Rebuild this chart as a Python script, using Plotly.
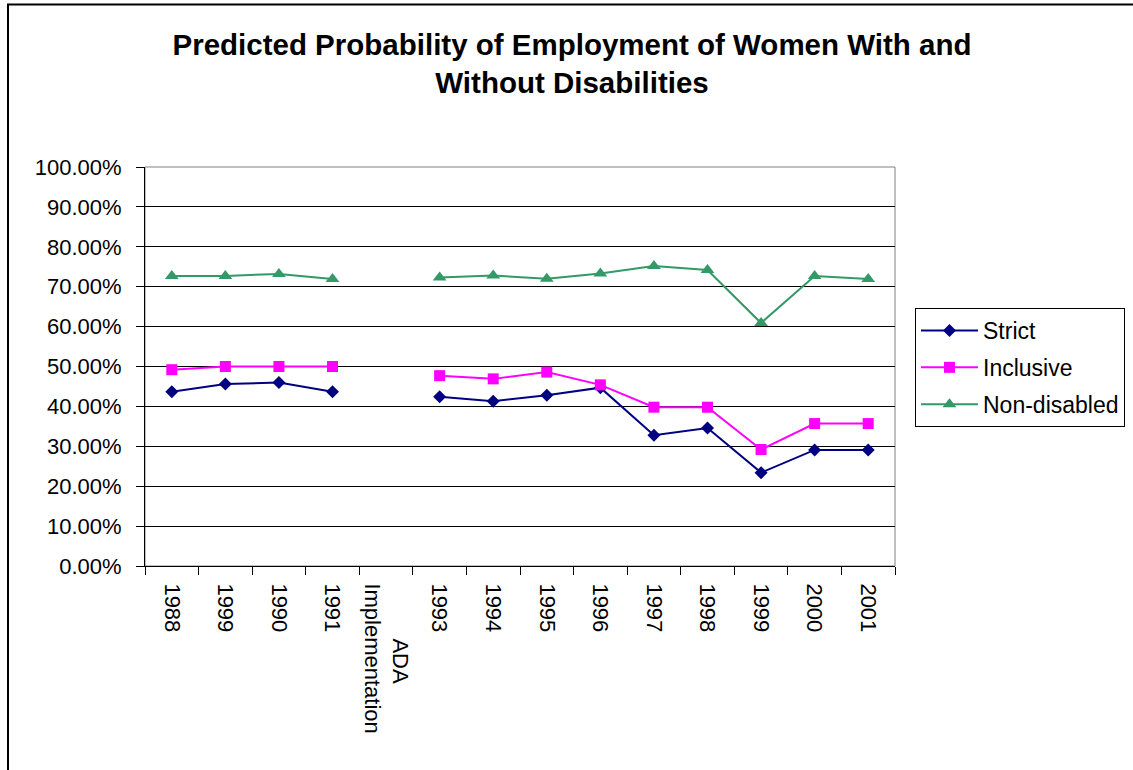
import plotly.graph_objects as go

# Categories along the x axis (the gap marks the ADA implementation year)
categories = ["1988", "1999", "1990", "1991",
              "\u00a0" * 9 + "ADA<br>Implementation",
              "1993", "1994", "1995", "1996", "1997", "1998", "1999 ", "2000", "2001"]

# Predicted probability of employment, in percent
strict = [43.7, 45.6, 46.0, 43.7, None, 42.4, 41.3, 42.8, 44.7, 32.8, 34.6, 23.4, 29.1, 29.1]
inclusive = [49.2, 50.0, 50.0, 50.0, None, 47.7, 46.9, 48.6, 45.4, 39.8, 39.8, 29.2, 35.7, 35.7]
non_disabled = [72.7, 72.7, 73.2, 71.9, None, 72.3, 72.8, 72.0, 73.3, 75.2, 74.2, 60.9, 72.7, 71.9]

y_ticks = [0, 10, 20, 30, 40, 50, 60, 70, 80, 90, 100]

FONT = "Liberation Sans, Arial, sans-serif"

fig = go.Figure()

series = [
    ("Strict", strict, "#000080", "diamond", 10),
    ("Inclusive", inclusive, "#FF00FF", "square", 11),
    ("Non-disabled", non_disabled, "#339966", "triangle-up", 12),
]
for name, values, color, symbol, size in series:
    fig.add_trace(go.Scatter(
        x=categories, y=values, name=name, mode="lines+markers",
        line=dict(color=color, width=2),
        marker=dict(symbol=symbol, size=size, color=color),
        connectgaps=False, legendgroup=name,
    ))

fig.update_layout(
    width=1133, height=770,
    margin=dict(l=145, r=238, t=167, b=204, autoexpand=False),
    paper_bgcolor="white", plot_bgcolor="white",
    font=dict(family=FONT, size=22, color="black"),
    title=dict(
        text="<b>Predicted Probability of Employment of Women With and<br>Without Disabilities</b>",
        font=dict(family=FONT, size=29.5, color="black"),
        x=572 / 1133, xanchor="center", xref="container",
        y=1 - 55 / 770, yanchor="middle", yref="container",
    ),
    showlegend=True,
    legend=dict(
        x=915 / 1133, xanchor="left", xref="container",
        y=1 - 308 / 770, yanchor="top", yref="container",
        bordercolor="black", borderwidth=1, bgcolor="white",
        font=dict(family=FONT, size=23, color="black"),
        tracegroupgap=4, itemwidth=57,
    ),
    shapes=[
        # plot area frame
        dict(type="rect", xref="paper", yref="paper", x0=0, x1=1, y0=0, y1=1,
             line=dict(color="#808080", width=1), layer="below"),
        # outer chart frame
        dict(type="rect", xref="paper", yref="paper",
             x0=(8 - 145) / 750, x1=(1145 - 145) / 750,
             y0=(566 - 780) / 399, y1=(566 - 4.5) / 399,
             line=dict(color="black", width=2), layer="below"),
    ],
)

fig.update_xaxes(
    type="category", categoryorder="array", categoryarray=categories,
    range=[-0.5, len(categories) - 0.5],
    tickangle=90, tickson="boundaries", ticks="outside", ticklen=8,
    tickcolor="black", showline=True, linecolor="black", linewidth=1,
    showgrid=False, ticklabelstandoff=12,
    tickfont=dict(family=FONT, size=22, color="black"),
)
fig.update_yaxes(
    range=[0, 100], tickvals=y_ticks,
    ticktext=[f"{v:.2f}%" for v in y_ticks],
    ticks="outside", ticklen=8, tickcolor="black",
    showline=True, linecolor="black", linewidth=1,
    showgrid=True, gridcolor="black", gridwidth=1, zeroline=False,
    ticklabelstandoff=10,
    tickfont=dict(family=FONT, size=22, color="black"),
)

fig.write_html("out.html")
